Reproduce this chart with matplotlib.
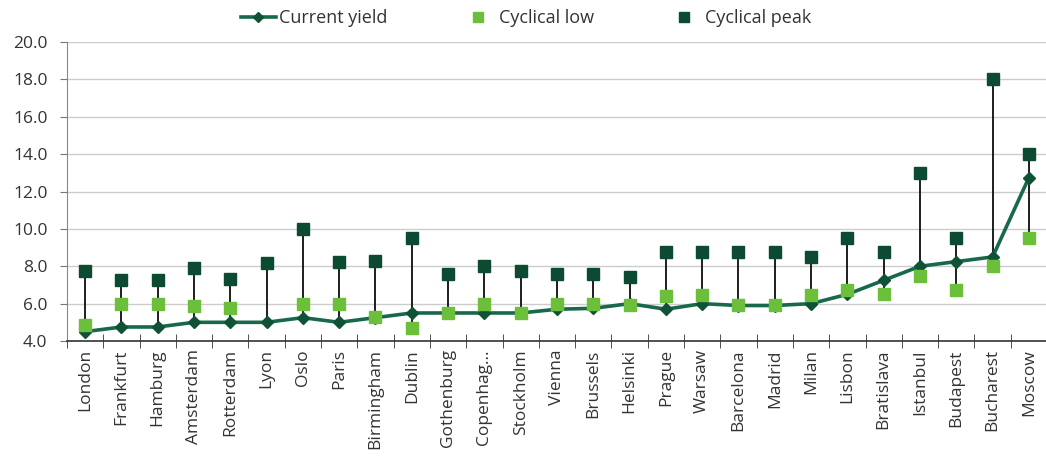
import matplotlib.pyplot as plt
import numpy as np

plt.rcParams['font.family'] = ['Open Sans', 'DejaVu Sans']

cities = ['London', 'Frankfurt', 'Hamburg', 'Amsterdam', 'Rotterdam', 'Lyon',
          'Oslo', 'Paris', 'Birmingham', 'Dublin', 'Gothenburg', 'Copenhag...',
          'Stockholm', 'Vienna', 'Brussels', 'Helsinki', 'Prague', 'Warsaw',
          'Barcelona', 'Madrid', 'Milan', 'Lisbon', 'Bratislava', 'Istanbul',
          'Budapest', 'Bucharest', 'Moscow']
current = [4.5, 4.75, 4.75, 5.0, 5.0, 5.0, 5.25, 5.0, 5.25, 5.5, 5.5, 5.5,
           5.5, 5.7, 5.75, 6.0, 5.7, 6.0, 5.9, 5.9, 6.0, 6.5, 7.25, 8.0,
           8.25, 8.5, 12.75]
low = [4.85, 6.0, 6.0, 5.9, 5.75, np.nan, 6.0, 6.0, 5.3, 4.7, 5.5, 6.0,
       5.5, 6.0, 6.0, 5.95, 6.4, 6.45, 5.95, 5.95, 6.45, 6.75, 6.5, 7.5,
       6.75, 8.0, 9.5]
peak = [7.75, 7.25, 7.25, 7.9, 7.3, 8.2, 10.0, 8.25, 8.3, 9.5, 7.6, 8.0,
        7.75, 7.6, 7.6, 7.4, 8.75, 8.75, 8.75, 8.75, 8.5, 9.5, 8.75, 13.0,
        9.5, 18.0, 14.0]

x = np.arange(len(cities))
cur = np.array(current)
lo = np.array(low)
pk = np.array(peak)

fig = plt.figure(figsize=(10.46, 4.63), dpi=100)
ax = fig.add_axes([0.064, 0.2635, 0.937, 0.6455])

# high-low range lines
top = np.fmax(np.fmax(cur, lo), pk)
bot = np.fmin(np.fmin(cur, lo), pk)
ax.vlines(x, bot, top, color='#1e1e1e', lw=1.4, zorder=2)

ax.plot(x, cur, color='#17694a', lw=2.6, marker='D', ms=6.5,
        mfc='#0f5236', mec='#0f5236', zorder=3, label='Current yield')
ax.plot(x, lo, ls='none', marker='s', ms=9, color='#6cbf3a',
        zorder=4, label='Cyclical low')
ax.plot(x, pk, ls='none', marker='s', ms=9, color='#0d4a32',
        zorder=4, label='Cyclical peak')

ax.set_ylim(4, 20)
yt = np.arange(4, 20.1, 2)
ax.set_yticks(yt)
ax.set_yticklabels(['%.1f' % v for v in yt])
ax.set_xlim(-0.5, len(cities) - 0.5)
ax.set_xticks(x)
ax.set_xticklabels(cities, rotation=90, fontsize=12.5, color='#333333')
ax.set_xticks(np.arange(-0.5, len(cities) - 0.5, 1), minor=True)
ax.tick_params(axis='x', which='major', length=0, pad=6)
ax.tick_params(axis='x', which='minor', length=10, direction='inout',
               color='#333333')
ax.tick_params(axis='y', labelsize=12.5, length=5, pad=9, color='#777777',
               labelcolor='#333333')

ax.grid(axis='y', color='#cccccc', lw=1)
ax.set_axisbelow(True)
for s in ['top', 'right']:
    ax.spines[s].set_visible(False)
ax.spines['left'].set_color('#888888')
ax.spines['bottom'].set_color('#333333')
ax.spines['bottom'].set_linewidth(1.2)

fig.legend(loc='upper center', bbox_to_anchor=(526 / 1046, 1.0), ncol=3,
           frameon=False, fontsize=13, handlelength=1.95, handletextpad=0.2,
           columnspacing=4.0, borderaxespad=0.1, markerscale=0.8,
           labelcolor='#333333')

fig.savefig('out.png', dpi=100)
